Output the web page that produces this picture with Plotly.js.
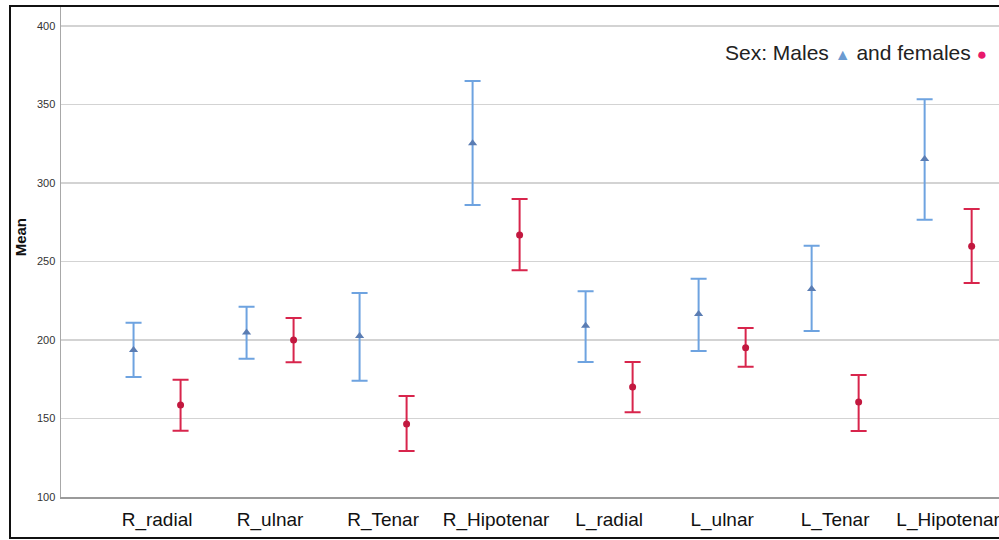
<!DOCTYPE html>
<html>
<head>
<meta charset="utf-8">
<script src="https://cdn.plot.ly/plotly-3.0.1.min.js"></script>
<style>
  html, body { margin: 0; padding: 0; background: #fff; overflow: hidden; }
  #wrap { position: relative; width: 999px; height: 540px; }
  #chart { position: absolute; left: 0; top: 0; width: 999px; height: 540px; }
  #frame { position: absolute; left: 9px; top: 5px; width: 1000px; height: 530px;
           border: 2px solid #111; border-right: none; pointer-events: none; }
</style>
</head>
<body>
<div id="wrap">
  <div id="chart"></div>
  <div id="frame"></div>
</div>
<script>
// Categories
const categories = ["R_radial", "R_ulnar", "R_Tenar", "R_Hipotenar", "L_radial", "L_ulnar", "L_Tenar", "L_Hipotenar"];

// Males: mean and confidence interval limits
const maleMean  = [193.6, 204.7, 202.5, 325.3, 209.0, 216.5, 232.5, 315.3];
const maleUpper = [211.0, 221.2, 230.0, 365.0, 231.0, 239.0, 260.0, 353.3];
const maleLower = [176.4, 188.0, 174.0, 286.0, 186.0, 193.0, 205.7, 276.6];

// Females: mean and confidence interval limits
const femaleMean  = [158.6, 200.0, 146.5, 266.9, 170.0, 195.0, 160.5, 259.7];
const femaleUpper = [174.7, 214.0, 164.3, 289.8, 186.0, 207.6, 177.7, 283.4];
const femaleLower = [142.2, 185.8, 129.3, 244.4, 154.0, 183.0, 142.0, 236.3];

// Y tick values
const yTicks = [100, 150, 200, 250, 300, 350, 400];

const idx = categories.map((_, i) => i);
const offset = 0.208;

const males = {
  type: "scatter", mode: "markers", name: "Males",
  x: idx.map(i => i - offset), y: maleMean,
  marker: { symbol: "triangle-up", size: 8, color: "#5b7db3" },
  error_y: {
    type: "data", symmetric: false,
    array: maleUpper.map((u, i) => u - maleMean[i]),
    arrayminus: maleLower.map((l, i) => maleMean[i] - l),
    color: "#6ea3e0", thickness: 2, width: 8
  },
  hoverinfo: "y"
};

const females = {
  type: "scatter", mode: "markers", name: "Females",
  x: idx.map(i => i + offset), y: femaleMean,
  marker: { symbol: "circle", size: 7, color: "#c2183f" },
  error_y: {
    type: "data", symmetric: false,
    array: femaleUpper.map((u, i) => u - femaleMean[i]),
    arrayminus: femaleLower.map((l, i) => femaleMean[i] - l),
    color: "#d8254c", thickness: 2, width: 8
  },
  hoverinfo: "y"
};

const layout = {
  width: 999, height: 540,
  margin: { l: 61, r: 0, t: 7, b: 43 },
  paper_bgcolor: "#fff", plot_bgcolor: "#fff",
  showlegend: false,
  xaxis: {
    range: [-0.85, 7.45],
    tickvals: idx, ticktext: categories,
    showgrid: false, zeroline: false,
    showline: true, linecolor: "#9a9a9a", linewidth: 2,
    ticks: "", ticklabelstandoff: 4, ticklabeloverflow: "allow",
    tickfont: { family: "Liberation Sans, Arial", size: 19, color: "#111" }
  },
  yaxis: {
    range: [100, 412.1],
    tickvals: yTicks,
    showgrid: true, gridcolor: "#d3d3d3", gridwidth: 1.5,
    zeroline: false,
    showline: true, linecolor: "#a8a8a8", linewidth: 1.5,
    ticks: "", ticklabelstandoff: 2,
    tickfont: { family: "Liberation Sans, Arial", size: 11, color: "#333" }
  },
  annotations: [
    {
      xref: "paper", yref: "paper", x: -0.0437, y: 0.53,
      xanchor: "center", yanchor: "middle", showarrow: false, textangle: -90,
      text: "<b>Mean</b>",
      font: { family: "Liberation Sans, Arial", size: 15, color: "#111" }
    },
    {
      xref: "paper", yref: "paper", x: 0.989, y: 0.908,
      xanchor: "right", yanchor: "middle", showarrow: false,
      text: 'Sex: Males <span style="color:#6b9bd1;font-size:16px">▲</span> and females <span style="color:#e8196b;font-size:17px">●</span>',
      font: { family: "Liberation Sans, Arial", size: 21, color: "#222" }
    }
  ]
};

Plotly.newPlot("chart", [males, females], layout, { staticPlot: true, displayModeBar: false });
</script>
</body>
</html>
